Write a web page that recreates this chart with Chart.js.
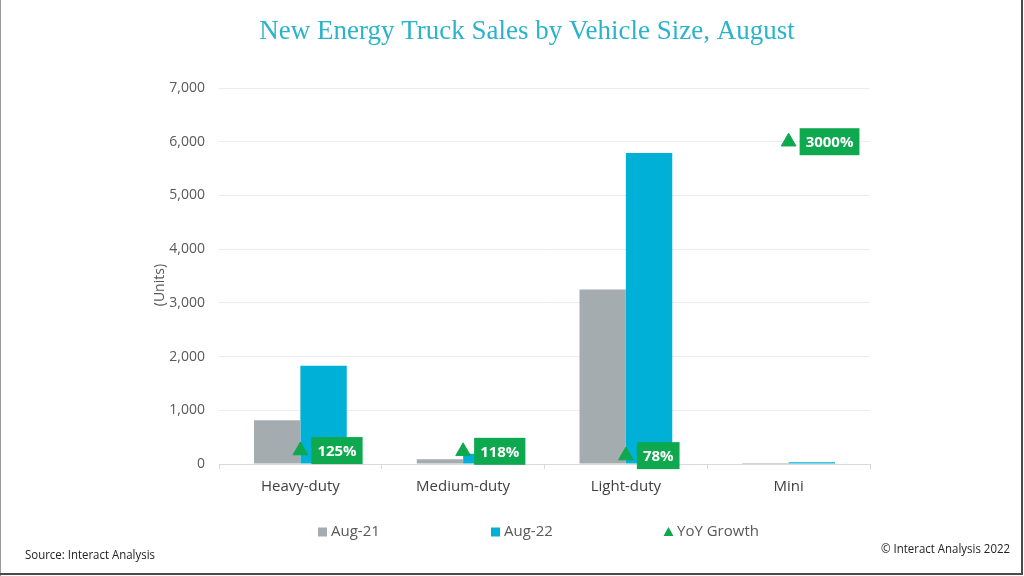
<!DOCTYPE html>
<html>
<head>
<meta charset="utf-8">
<script src="https://cdn.jsdelivr.net/npm/chart.js@4.4.0/dist/chart.umd.min.js"></script>
<style>
  html, body { margin: 0; padding: 0; background: #ffffff; }
  #wrap { width: 1024px; height: 576px; position: relative; }
</style>
</head>
<body>
<div id="wrap"><canvas id="c" width="1024" height="576"></canvas></div>
<script>
const categories = ['Heavy-duty', 'Medium-duty', 'Light-duty', 'Mini'];
const aug21 = [815, 88, 3250, 1];
const aug22 = [1830, 192, 5790, 31];
const yoyGrowth = [1.25, 1.18, 0.78, 30.0];   // growth ratio (125% = 1.25)
const yoyLabels = ['125%', '118%', '78%', '3000%'];
const yTicksMax = 7000;
const yTickStep = 1000;
const chartTitle = 'New Energy Truck Sales by Vehicle Size, August';

const GRAY = '#a5acb0';
const CYAN = '#00b0d6';
const GREEN = '#0ea84f';
const TEXT = '#595959';

Chart.defaults.font.family = "'Open Sans', 'Noto Sans', sans-serif";
Chart.defaults.color = TEXT;

const growthLabelPlugin = {
  id: 'growthLabels',
  afterDatasetsDraw(chart) {
    const ctx = chart.ctx;
    const meta = chart.getDatasetMeta(2);
    ctx.save();
    ctx.font = "bold 15px 'Open Sans', sans-serif";
    meta.data.forEach((pt, i) => {
      const txt = yoyLabels[i];
      const w = ctx.measureText(txt).width + 12;
      const h = 27;
      const x = pt.x + 11;
      const y = pt.y - h / 2;
      ctx.fillStyle = GREEN;
      ctx.fillRect(x, y, w, h);
      ctx.fillStyle = '#ffffff';
      ctx.textBaseline = 'middle';
      ctx.textAlign = 'left';
      ctx.fillText(txt, x + 6, pt.y + 1);
    });
    ctx.restore();
  }
};

function narrowText(ctx, txt, x, y, align, sx) {
  ctx.save();
  const w = ctx.measureText(txt).width * sx;
  const left = align === 'right' ? x - w : x;
  ctx.translate(left, y);
  ctx.scale(sx, 1);
  ctx.textAlign = 'left';
  ctx.fillText(txt, 0, 0);
  ctx.restore();
}

const decorPlugin = {
  id: 'decor',
  afterDraw(chart) {
    const ctx = chart.ctx;
    ctx.save();
    // title
    ctx.font = "27px 'Liberation Serif', 'DejaVu Serif', serif";
    ctx.fillStyle = '#2ab3cb';
    ctx.textAlign = 'center';
    ctx.textBaseline = 'middle';
    ctx.fillText(chartTitle, 527, 32);
    // legend
    ctx.font = "15px 'Open Sans', sans-serif";
    ctx.textBaseline = 'middle';
    ctx.textAlign = 'left';
    const y = 532;
    const starts = [318, 491, 664];
    chart.data.datasets.forEach((ds, i) => {
      const x = starts[i];
      if (ds.type === 'line') {
        ctx.fillStyle = GREEN;
        ctx.beginPath();
        ctx.moveTo(x + 4.5, y - 5);
        ctx.lineTo(x + 9.5, y + 4);
        ctx.lineTo(x - 0.5, y + 4);
        ctx.closePath();
        ctx.fill();
      } else {
        ctx.fillStyle = ds.backgroundColor;
        ctx.fillRect(x, y - 4.5, 9, 9);
      }
      ctx.fillStyle = TEXT;
      ctx.fillText(ds.label, x + 13, y);
    });
    // footer texts
    ctx.font = "13px 'Open Sans', sans-serif";
    ctx.fillStyle = '#222222';
    narrowText(ctx, 'Source: Interact Analysis', 25, 555, 'left', 0.88);
    narrowText(ctx, '© Interact Analysis 2022', 1010, 549, 'right', 0.88);
    // frame
    ctx.strokeStyle = '#9a9a9a';
    ctx.lineWidth = 1;
    ctx.beginPath();
    ctx.moveTo(0.5, 0);
    ctx.lineTo(0.5, 576);
    ctx.stroke();
    ctx.strokeStyle = '#4a4a4a';
    ctx.lineWidth = 2;
    ctx.beginPath();
    ctx.moveTo(1022, 0);
    ctx.lineTo(1022, 574);
    ctx.lineTo(0, 574);
    ctx.stroke();
    ctx.restore();
  }
};

new Chart(document.getElementById('c'), {
  data: {
    labels: categories,
    datasets: [
      { type: 'bar', label: 'Aug-21', data: aug21, backgroundColor: GRAY, yAxisID: 'y', order: 2,
        categoryPercentage: 0.57, barPercentage: 1.0 },
      { type: 'bar', label: 'Aug-22', data: aug22, backgroundColor: CYAN, yAxisID: 'y', order: 2,
        categoryPercentage: 0.57, barPercentage: 1.0 },
      { type: 'line', label: 'YoY Growth', data: yoyGrowth, yAxisID: 'y1', showLine: false,
        pointStyle: 'triangle', pointRadius: 8.5, pointHoverRadius: 8.5,
        pointBackgroundColor: GREEN, pointBorderColor: GREEN, borderColor: GREEN, backgroundColor: GREEN, order: 1 }
    ]
  },
  options: {
    responsive: false,
    animation: false,
    layout: { padding: { left: 152, right: 154, top: 88, bottom: 71 } },
    plugins: {
      legend: { display: false },
      tooltip: { enabled: false },
      title: { display: false }
    },
    scales: {
      x: {
        offset: true,
        grid: { offset: true, drawOnChartArea: false, drawTicks: true, tickLength: 5, color: '#d9d9d9' },
        border: { color: '#d9d9d9' },
        ticks: { color: '#404040', font: { size: 15 }, padding: 9 }
      },
      y: {
        min: 0, max: yTicksMax,
        ticks: { stepSize: yTickStep, color: TEXT, font: { size: 14 }, padding: 14 },
        grid: { color: '#ececec', drawTicks: false },
        border: { display: false },
        title: { display: true, text: '(Units)     ', color: TEXT, font: { size: 14 }, padding: 0 },
        afterFit(s) { s.width = 67; }
      },
      y1: {
        display: false,
        min: 0, max: 35
      }
    }
  },
  plugins: [growthLabelPlugin, decorPlugin]
});
</script>
</body>
</html>
